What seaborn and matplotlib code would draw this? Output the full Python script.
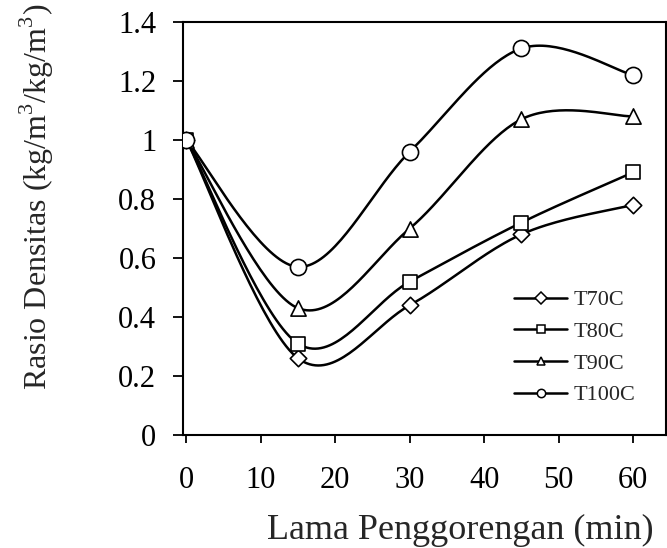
import numpy as np
import pandas as pd
import matplotlib
matplotlib.use("Agg")
import matplotlib.pyplot as plt
import seaborn as sns
from matplotlib.lines import Line2D

# dados
lama = [0, 15, 30, 45, 60]  # min
t70c = [1.0, 0.26, 0.44, 0.68, 0.78]
t80c = [1.0, 0.31, 0.52, 0.72, 0.89]
t90c = [1.0, 0.43, 0.70, 1.07, 1.08]
t100c = [1.0, 0.57, 0.96, 1.31, 1.22]

series = ["T70C", "T80C", "T90C", "T100C"]
valores = [t70c, t80c, t90c, t100c]
marcadores = ["D", "s", "^", "o"]
tamanhos = [70, 105, 120, 135]
y_ticks = [0, 0.2, 0.4, 0.6, 0.8, 1, 1.2, 1.4]
y_tick_labels = ["0", "0.2", "0.4", "0.6", "0.8", "1", "1.2", "1.4"]
x_ticks = [0, 10, 20, 30, 40, 50, 60]


def curva_suave(xs, ys, n=40):
    # linha suavizada tipo Excel (bezier / catmull-rom)
    p = np.column_stack([xs, ys]).astype(float)
    p = np.vstack([p[0], p, p[-1]])
    out = []
    t = np.linspace(0, 1, n)[:, None]
    for i in range(1, len(p) - 2):
        p0, p1, p2, p3 = p[i - 1], p[i], p[i + 1], p[i + 2]
        c1 = p1 + (p2 - p0) / 6
        c2 = p2 - (p3 - p1) / 6
        seg = ((1 - t) ** 3) * p1 + 3 * ((1 - t) ** 2) * t * c1 + 3 * (1 - t) * t ** 2 * c2 + t ** 3 * p2
        out.append(seg)
    out = np.vstack(out)
    return out[:, 0], out[:, 1]


sns.set_theme(style="ticks")
plt.rcParams['font.family'] = ['Liberation Serif', 'DejaVu Serif']
plt.rcParams['mathtext.fontset'] = 'custom'
plt.rcParams['mathtext.rm'] = 'Liberation Serif'

fig = plt.figure(figsize=(6.67, 5.48), dpi=100)
ax = fig.add_axes([0.274, 0.206, 0.724, 0.754])

for nome, vals, m, s in zip(series, valores, marcadores, tamanhos):
    sx, sy = curva_suave(lama, vals)
    df = pd.DataFrame({"x": sx, "y": sy})
    sns.lineplot(data=df, x="x", y="y", color="black", linewidth=1.8, sort=False,
                 estimator=None, ax=ax, zorder=2)
    sns.scatterplot(x=lama, y=vals, marker=m, s=s, facecolor="white",
                    edgecolor="black", linewidth=1.2, ax=ax, zorder=3)

ax.set_xlim(-0.5, 64.4)
ax.set_ylim(0, 1.4)
ax.set_xticks(x_ticks)
ax.set_yticks(y_ticks)
ax.set_yticklabels(y_tick_labels)
ax.tick_params(axis="both", labelsize=22, direction="out", width=1.3, colors="black")
ax.tick_params(axis="x", length=6, pad=16)
ax.tick_params(axis="y", length=7, pad=12)
for sp in ax.spines.values():
    sp.set_linewidth(1.5)
    sp.set_color("black")

ax.set_xlabel("Lama Penggorengan (min)", fontsize=26)
ax.xaxis.set_label_coords(0.574, -0.19)
ax.set_ylabel(r"Rasio Densitas (kg/m$^\mathrm{3}$/kg/m$^\mathrm{3}$)", fontsize=23)
ax.yaxis.set_label_coords(-0.262, 0.576)

handles = [Line2D([0], [0], color="black", linewidth=1.8, marker=m, markersize=6,
                  markerfacecolor="white", markeredgecolor="black", markeredgewidth=1.1)
           for m in marcadores]
ax.legend(handles, series, loc="center left", bbox_to_anchor=(0.686, 0.212), frameon=False,
          fontsize=16, handlelength=2.4, labelspacing=0.5, handletextpad=0.3,
          borderpad=0, borderaxespad=0)

plt.savefig("out.png", dpi=100)
